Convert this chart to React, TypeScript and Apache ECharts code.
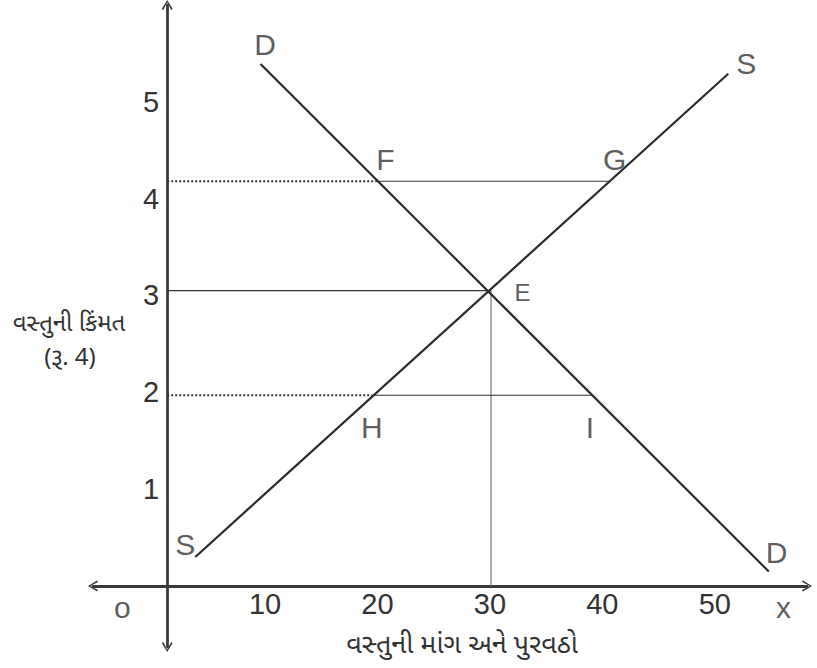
import React, { useEffect, useRef } from "react";
import * as echarts from "echarts";

// Axis tick labels
const quantityTicks = [10, 20, 30, 40, 50];
const priceTicks = [1, 2, 3, 4, 5];

// Demand curve (quantity, price) endpoints
const demandQty = [9.6, 54.8];
const demandPrice = [5.39, 0.15];
// Supply curve endpoints
const supplyQty = [3.8, 51.2];
const supplyPrice = [0.3, 5.29];

// Position (in quantity units) of the drawn price axis
const priceAxisQty = 1.3;

// Guide levels
const highPrice = 4.18;
const highDemand = 20.1; // F
const highSupply = 40.6; // G
const eqPrice = 3.05;
const eqQty = 30.1; // E
const lowPrice = 1.97;
const lowSupply = 19.5; // H
const lowDemand = 39.2; // I

// Point letters
const pointNames = ["D", "S", "F", "G", "E", "H", "I", "S", "D", "o", "x"];
const pointQty = [10.0, 52.8, 20.7, 41.1, 32.9, 19.5, 38.9, 2.9, 55.5, -2.7, 56.1];
const pointPrice = [5.59, 5.4, 4.4, 4.4, 3.03, 1.64, 1.64, 0.43, 0.35, -0.22, -0.22];
const pointFont = [30, 30, 30, 30, 24, 30, 30, 30, 30, 30, 30];

// Titles
const yTitle = ["વસ્તુની કિંમત", "(રૂ. 4)"];
const xTitle = "વસ્તુની માંગ અને પુરવઠો";

const X_MIN = -5.3;
const X_MAX = 58.2;
const Y_MIN = -0.63;
const Y_MAX = 6.0;
const GRID = { left: 93, right: 10, top: 5, bottom: 21 };
const W = 817;
const H = 668;

const chevron = "path://M0,10 L6,0 L12,10 L10.3,11 L6,2.4 L1.7,11 Z";
const INK = "#333333";
const FONT = "'Liberation Sans', Arial, sans-serif";
const GUJ = "'Noto Sans Gujarati', 'Lohit Gujarati', 'Noto Serif Gujarati', 'Noto Sans', sans-serif";

export default function App() {
  const ref = useRef<HTMLDivElement>(null);
  useEffect(() => {
    if (!ref.current) return;
    const chart = echarts.init(ref.current, undefined, { renderer: "svg" });
    const plotW = W - GRID.left - GRID.right;
    const plotH = H - GRID.top - GRID.bottom;
    const yAxisOffset = -((priceAxisQty - X_MIN) / (X_MAX - X_MIN)) * plotW;
    const xAxisOffset = -((0 - Y_MIN) / (Y_MAX - Y_MIN)) * plotH;

    const seg = (a: number[], b: number[]) => [a, b];
    const lineSeries = (name: string, data: number[][], style: any, z = 2) => ({
      name,
      type: "line",
      data,
      symbol: "none",
      silent: true,
      z,
      lineStyle: style,
    });

    chart.setOption({
      animation: false,
      backgroundColor: "#ffffff",
      grid: { ...GRID, containLabel: false, outerBoundsMode: "none" },
      xAxis: {
        type: "value",
        min: X_MIN,
        max: X_MAX,
        position: "bottom",
        offset: xAxisOffset,
        splitLine: { show: false },
        axisTick: { show: false },
        axisLine: {
          onZero: false,
          symbol: [chevron, chevron],
          symbolSize: [12, 10],
          lineStyle: { color: "#3a3a3a", width: 2.8 },
        },
        axisLabel: {
          customValues: quantityTicks,
          color: INK,
          fontSize: 29,
          fontFamily: FONT,
          margin: 4,
        },
      },
      yAxis: {
        type: "value",
        min: Y_MIN,
        max: Y_MAX,
        offset: yAxisOffset,
        splitLine: { show: false },
        axisTick: { show: false },
        axisLine: {
          show: true,
          onZero: false,
          symbol: [chevron, chevron],
          symbolSize: [12, 10],
          lineStyle: { color: "#3a3a3a", width: 2.8 },
        },
        axisLabel: {
          customValues: priceTicks,
          color: INK,
          fontSize: 29,
          fontFamily: FONT,
          margin: 8,
        },
      },
      graphic: [
        {
          type: "text",
          x: 69,
          y: 325,
          style: { text: yTitle[0], fill: INK, font: `24px ${GUJ}`, align: "center", verticalAlign: "middle" },
        },
        {
          type: "text",
          x: 70,
          y: 359,
          style: { text: yTitle[1], fill: INK, font: `24px ${GUJ}`, align: "center", verticalAlign: "middle" },
        },
        {
          type: "text",
          x: 462,
          y: 646,
          style: { text: xTitle, fill: INK, font: `27px ${GUJ}`, align: "center", verticalAlign: "middle" },
        },
      ],
      series: [
        lineSeries("highDotted", seg([priceAxisQty, highPrice], [highDemand, highPrice]), { color: INK, width: 2, type: [2, 2] }),
        lineSeries("highSolid", seg([highDemand, highPrice], [highSupply, highPrice]), { color: INK, width: 1.2 }),
        lineSeries("eqH", seg([priceAxisQty, eqPrice], [eqQty, eqPrice]), { color: INK, width: 1.2 }),
        lineSeries("eqV", seg([eqQty, eqPrice], [eqQty, 0]), { color: "#777777", width: 1.2 }),
        lineSeries("lowDotted", seg([priceAxisQty, lowPrice], [lowSupply, lowPrice]), { color: INK, width: 2, type: [2, 2] }),
        lineSeries("lowSolid", seg([lowSupply, lowPrice], [lowDemand, lowPrice]), { color: INK, width: 1.2 }),
        lineSeries("demand", demandQty.map((q, i) => [q, demandPrice[i]]), { color: "#2b2b2b", width: 2.2 }, 3),
        lineSeries("supply", supplyQty.map((q, i) => [q, supplyPrice[i]]), { color: "#2b2b2b", width: 2.2 }, 3),
        {
          name: "letters",
          type: "scatter",
          silent: true,
          symbolSize: 1,
          itemStyle: { color: "transparent" },
          z: 4,
          data: pointNames.map((n, i) => ({
            name: n,
            value: [pointQty[i], pointPrice[i]],
            label: { fontSize: pointFont[i] },
          })),
          label: {
            show: true,
            position: "inside",
            formatter: "{b}",
            color: INK,
            fontFamily: FONT,
            align: "center",
            verticalAlign: "middle",
          },
        },
      ],
    });
    return () => chart.dispose();
  }, []);

  return (
    <div
      ref={ref}
      style={{ position: "fixed", left: 0, top: 0, width: W, height: H, background: "#fff" }}
    />
  );
}
